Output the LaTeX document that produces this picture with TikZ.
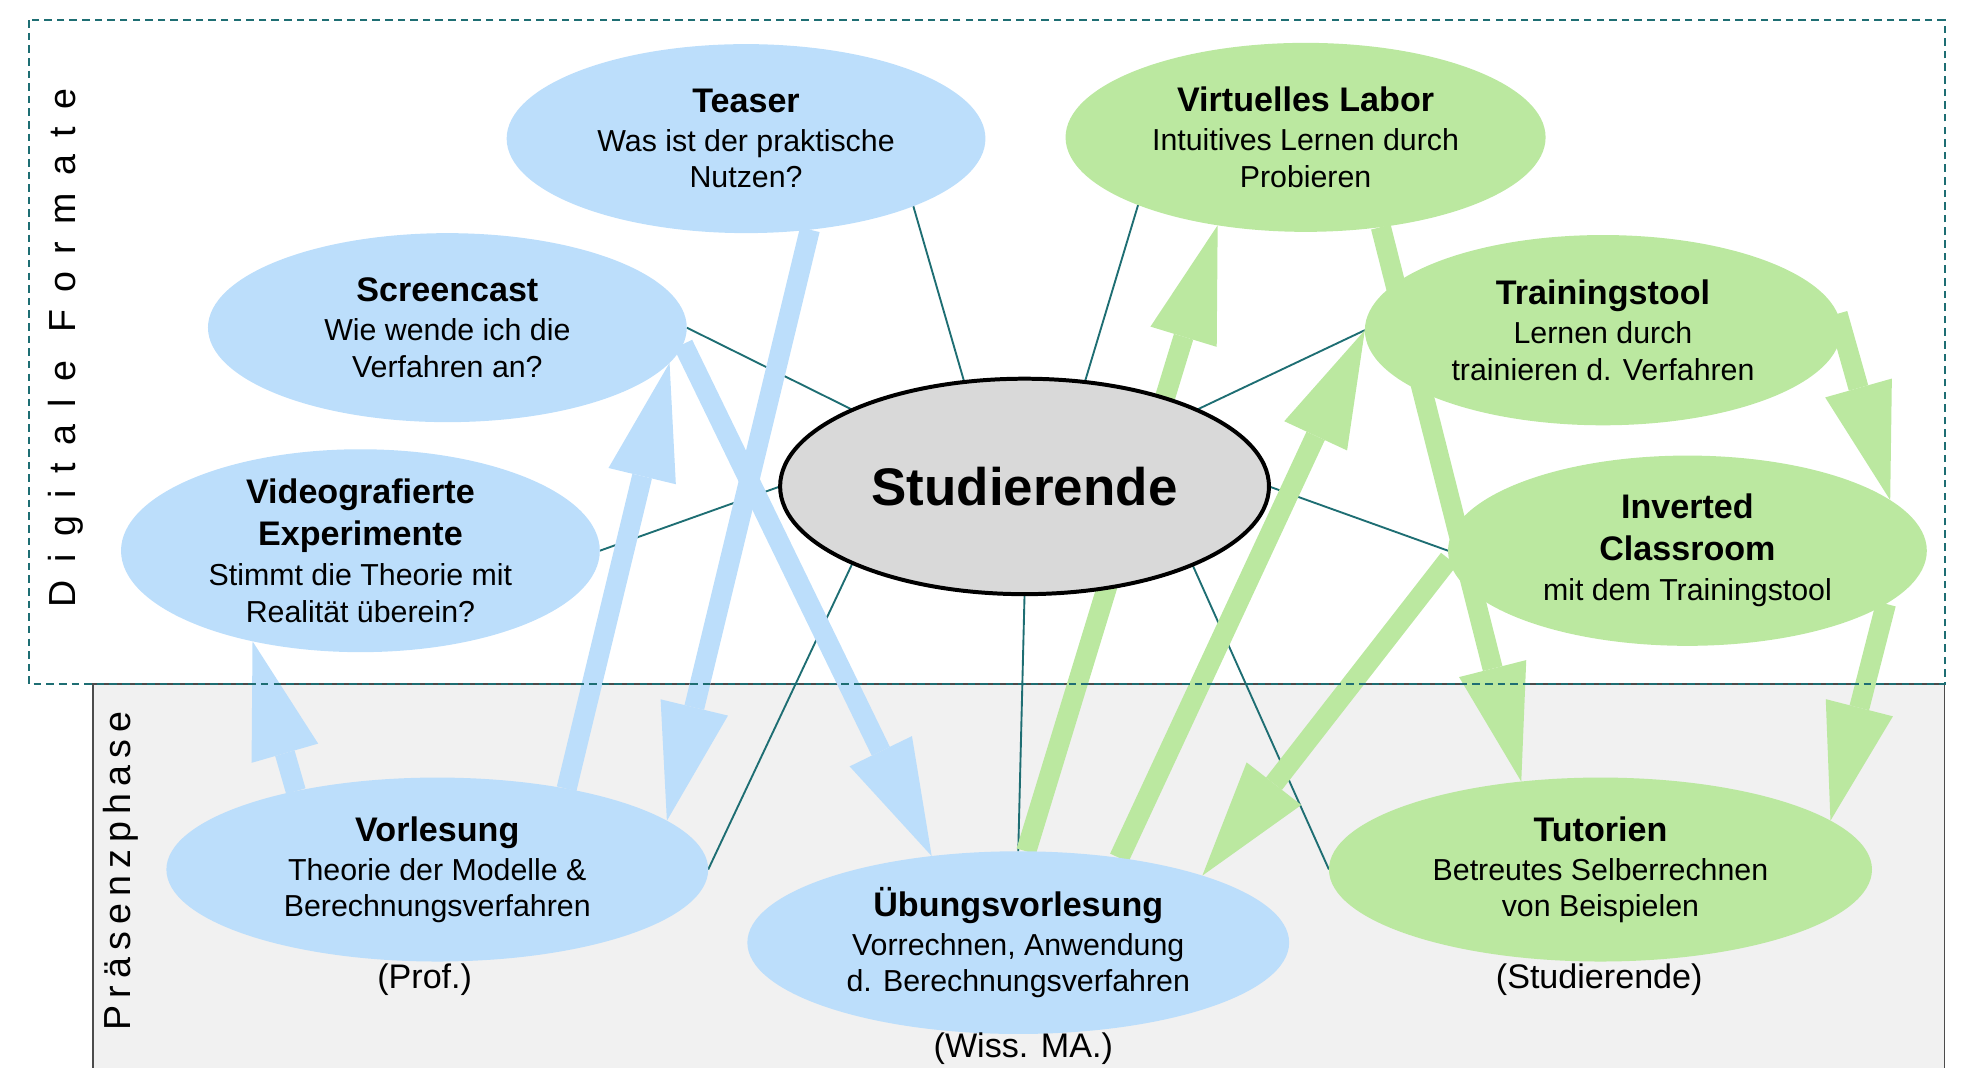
\documentclass[tikz,border=0pt]{standalone}
\usepackage{fontspec}
\setmainfont{Liberation Sans}
\newfontfamily\sidefontA[LetterSpace=46]{Liberation Sans}
\newfontfamily\sidefontB[LetterSpace=19]{Liberation Sans}
\usetikzlibrary{arrows.meta,shapes.geometric}

\definecolor{lightblue}{RGB}{188,222,251}
\definecolor{lightgreen}{RGB}{187,232,160}
\definecolor{panelgray}{RGB}{241,241,241}
\definecolor{studgray}{RGB}{217,217,217}
\definecolor{spokecol}{RGB}{30,110,115}

\pgfdeclarelayer{panel}
\pgfdeclarelayer{links}
\pgfsetlayers{panel,links,main}

\newcommand{\ttl}[1]{{\fontsize{15.4pt}{18pt}\selectfont\bfseries #1}}

\tikzset{
	bubble/.style={ellipse, inner sep=0pt, outer sep=0pt, align=center,
		font=\fontsize{13.7pt}{16.4pt}\selectfont},
	blueb/.style={bubble, fill=lightblue},
	greenb/.style={bubble, fill=lightgreen},
	spoke/.style={draw=spokecol, line width=0.85pt},
	fat/.style={line width=0.32cm, -{Triangle[length=1.85cm, width=1.1cm, line width=0pt]}},
	note/.style={inner sep=0pt, font=\fontsize{15.4pt}{18pt}\selectfont},
}

\begin{document}
\begin{tikzpicture}[x=0.02cm, y=-0.02cm]
\useasboundingbox (0,0) rectangle (1568,847);

%% Praesenzphase
\begin{pgfonlayer}{panel}
	\fill[panelgray] (74,543) rectangle (1543,860);
	\draw[line width=0.8pt, black!70] (74,860) -- (74,543) -- (1543,543) -- (1543,860);
\end{pgfonlayer}
\node[rotate=90, inner sep=0pt, font=\fontsize{17pt}{20pt}\sidefontA] (digital) at (52,276) {Digitale Formate};
\node[rotate=90, inner sep=0pt, font=\fontsize{17pt}{20pt}\sidefontB] (praesenz) at (96,691) {Präsenzphase};

%% Digitale Formate
\node[blueb, minimum width=7.6cm, minimum height=3cm] (teaser) at (592,110)
	{\ttl{Teaser}\\[1.2pt] Was ist der praktische\\ Nutzen?};
\node[blueb, minimum width=7.6cm, minimum height=3cm] (scr) at (355,260)
	{\ttl{Screencast}\\[1.2pt] Wie wende ich die\\ Verfahren an?};
\node[blueb, minimum width=7.6cm, minimum height=3.02cm] (vid) at (286,437)
	{\ttl{Videografierte}\\[2.3pt] \ttl{Experimente}\\[2pt] Stimmt die Theorie mit\\ Realität überein?};
\node[greenb, minimum width=7.62cm, minimum height=3cm] (vl) at (1036,109)
	{\ttl{Virtuelles Labor}\\[1.2pt] Intuitives Lernen durch\\ Probieren};
\node[greenb, minimum width=7.56cm, minimum height=3.02cm] (tt) at (1272,262)
	{\ttl{Trainingstool}\\[1.2pt] Lernen durch\\ trainieren d. Verfahren};
\node[greenb, minimum width=7.6cm, minimum height=3.02cm] (ic) at (1339,437)
	{\ttl{Inverted}\\[2.3pt] \ttl{Classroom}\\[2pt] mit dem Trainingstool};

%% Studierende
\node[ellipse, draw=black, line width=1.8pt, fill=studgray, inner sep=0pt, outer sep=0pt,
	minimum width=7.76cm, minimum height=3.42cm, font=\fontsize{23.9pt}{28pt}\selectfont\bfseries]
	(stud) at (813,386) {Studierende};

%% Praesenzformate
\node[blueb, minimum width=8.6cm, minimum height=2.92cm] (vorl) at (347,690)
	{\ttl{Vorlesung}\\[1.2pt] Theorie der Modelle \&\\ Berechnungsverfahren};
\node[blueb, minimum width=8.6cm, minimum height=2.9cm] (ueb) at (808,748)
	{\ttl{Übungsvorlesung}\\[1.2pt] Vorrechnen, Anwendung\\ d. Berechnungsverfahren};
\node[greenb, minimum width=8.62cm, minimum height=2.92cm] (tut) at (1270,690)
	{\ttl{Tutorien}\\[1.2pt] Betreutes Selberrechnen\\ von Beispielen};

\node[note] (profnote) at (337,777) {(Prof.)};
\node[note] (wissnote) at (812,832) {(Wiss. MA.)};
\node[note] (tutnote) at (1269,777) {(Studierende)};

\begin{pgfonlayer}{links}
	%% Verbindungen
	\draw[spoke] (teaser.-22) -- (stud.120);
	\draw[spoke] (scr.east) -- (stud.156);
	\draw[spoke] (vid.east) -- (stud.west);
	\draw[spoke] (vorl.east) -- (stud.204);
	\draw[spoke] (ueb.north) -- (stud.south);
	\draw[spoke] (tut.west) -- (stud.-25);
	\draw[spoke] (vl.202) -- (stud.60);
	\draw[spoke] (tt.west) -- (stud.24);
	\draw[spoke] (ic.west) -- (stud.east);

	%% Pfeile blau
	\draw[fat, lightblue] (teaser.-55) -- (vorl.12);
	\draw[fat, lightblue] (vorl.32) -- (scr.-9);
	\draw[fat, lightblue] (scr.-4) -- (ueb.135);
	\draw[fat, lightblue] (vorl.151) -- (vid.220);

	%% Pfeile gruen
	\draw[fat, lightgreen] (ueb.85) -- (vl.225);
	\draw[fat, lightgreen] (ueb.40) -- (tt.west);
	\draw[fat, lightgreen] (ic.182) -- (ueb.20);
	\draw[fat, lightgreen] (vl.-50) -- (tut.132);
	\draw[fat, lightgreen] (tt.4) -- (ic.14);
	\draw[fat, lightgreen] (ic.-15) -- (tut.12);

	%% Rahmen
	\draw[spokecol, line width=0.9pt, dash pattern=on 3.4pt off 2.3pt] (23,16) rectangle (1543,543);
\end{pgfonlayer}

\end{tikzpicture}
\end{document}
